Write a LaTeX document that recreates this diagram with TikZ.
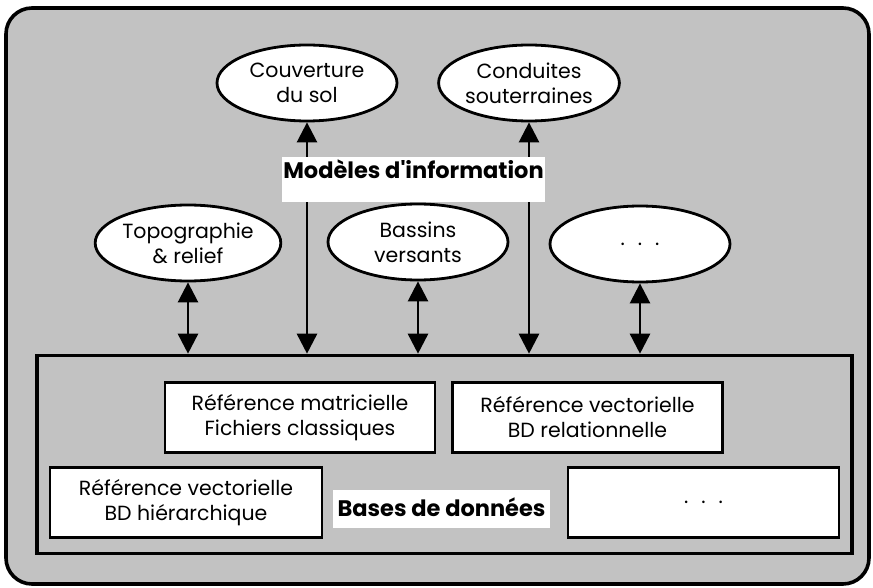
\documentclass[tikz,border=0pt]{standalone}
\usepackage{fontspec}
\setmainfont{Poppins}
\usetikzlibrary{shapes.geometric,arrows.meta}
\definecolor{patgray}{gray}{0.76}
\begin{document}
\begin{tikzpicture}[x=1pt,y=-1pt,
  ell/.style={ellipse,draw,line width=2.8pt,fill=white,minimum width=180pt,minimum height=76pt,inner sep=0pt,align=center,font=\fontsize{20.5}{25}\selectfont},
  rbox/.style={rectangle,draw,line width=2.8pt,fill=white,minimum width=270pt,minimum height=70pt,inner sep=0pt,align=center,font=\fontsize{20.5}{25}\selectfont},
  conn/.style={line width=2.6pt,-{Triangle[width=20pt,length=20pt]}},
  dconn/.style={line width=2.6pt,{Triangle[width=20pt,length=20pt]}-{Triangle[width=20pt,length=20pt]}},
  lbl/.style={fill=white,inner xsep=0pt,inner ysep=0pt,font=\bfseries\fontsize{22.5}{26}\selectfont}
]
\useasboundingbox (0,0) rectangle (873,588);
\draw[line width=3.6pt,rounded corners=26pt,fill=patgray] (6,8) rectangle (869,584);
\node[draw,line width=3.6pt,fill=patgray,minimum width=815pt,minimum height=198pt,inner sep=0pt] (bd) at (444.5,454.5) {};

\node[ell] (couv) at (307,83) {Couverture\\du sol};
\node[ell] (cond) at (529,83) {Conduites\\souterraines};
\node[ell] (topo) at (188,243) {Topographie\\\& relief};
\node[ell] (bass) at (418,242) {Bassins\\versants};
\node[ell] (dots) at (640,244) {.\hspace{13pt}.\hspace{13pt}.};

\node[lbl,minimum width=263pt,text height=21pt,text depth=24pt] (mi) at (413.5,157) [anchor=north] {Modèles d\textquotesingle information};

\node[rbox] (mat) at (300,417.5) {Référence matricielle\\Fichiers classiques};
\node[rbox] (rel) at (587.5,417.5) {Référence vectorielle\\BD relationnelle};
\node[rbox,minimum width=272pt] (hie) at (186,502.5) {Référence vectorielle\\BD hiérarchique};
\node[rbox,minimum width=271pt] (bdd) at (703.5,502.5) {.\hspace{13pt}.\hspace{13pt}.};

\node[lbl,minimum width=217pt,text height=26pt,text depth=12pt] (bl) at (441.5,490) [anchor=north] {Bases de données};

\draw[dconn] (topo.south) -- (topo.south |- bd.north);
\draw[dconn] (bass.south) -- (bass.south |- bd.north);
\draw[dconn] (dots.south) -- (dots.south |- bd.north);
\draw[conn] (couv.south |- mi.north) -- (couv.south);
\draw[conn] (couv.south |- mi.south) -- (couv.south |- bd.north);
\draw[conn] (cond.south |- mi.north) -- (cond.south);
\draw[conn] (cond.south |- mi.south) -- (cond.south |- bd.north);
\end{tikzpicture}
\end{document}
